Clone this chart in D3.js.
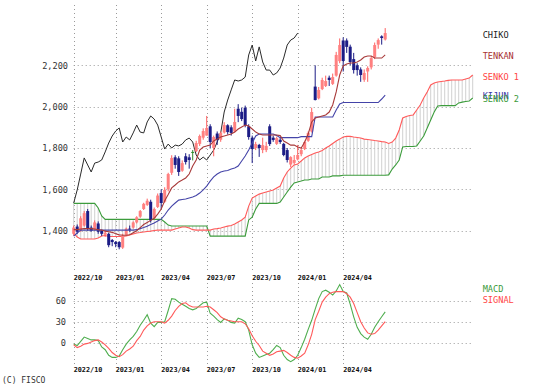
<!DOCTYPE html>
<html><head><meta charset="utf-8">
<script src="https://cdn.jsdelivr.net/npm/d3@7"></script>
<style>html,body{margin:0;padding:0;background:#fff;} svg{display:block;}</style>
</head><body>
<svg id="c" width="535" height="387"></svg>
<script>
// ---- data (weekly candles, index 0 = first week shown) ----
const open = [1385,1420,1400,1425,1495,1415,1405,1435,1400,1380,
1385,1355,1345,1345,1318,1380,1410,1415,1440,1468,
1505,1525,1540,1460,1515,1582,1540,1600,1680,1755,
1750,1690,1760,1755,1781,1785,1820,1850,1860,1905,
1800,1870,1840,1875,1910,1900,1880,1990,1975,1995,
1905,1850,1800,1815,1790,1790,1905,1850,1820,1840,
1820,1790,1720,1728,1745,1770,1795,1835,1880,2097,
2040,2085,2100,2140,2110,2150,2220,2320,2320,2290,
2230,2200,2180,2130,2170,2190,2240,2300,2340,2325];
const high = [1425,1430,1470,1495,1505,1425,1450,1445,1405,1400,
1390,1360,1350,1350,1385,1415,1425,1445,1470,1500,
1535,1555,1550,1512,1580,1600,1610,1680,1765,1765,
1760,1740,1775,1770,1790,1835,1865,1895,1955,1915,
1860,1880,1880,1925,1915,1910,1990,2012,1995,2005,
1915,1860,1830,1820,1850,1830,1915,1860,1855,1850,
1825,1800,1760,1766,1815,1800,1835,1880,1995,2200,
2095,2140,2150,2150,2160,2265,2330,2335,2330,2300,
2260,2210,2190,2180,2195,2245,2310,2330,2345,2380];
const low = [1375,1385,1395,1420,1400,1395,1400,1385,1375,1370,
1320,1325,1320,1310,1312,1375,1395,1410,1435,1462,
1500,1520,1440,1455,1510,1505,1535,1590,1670,1700,
1665,1685,1720,1700,1740,1780,1810,1840,1860,1800,
1760,1815,1830,1870,1865,1860,1875,1925,1930,1900,
1840,1727,1790,1757,1775,1780,1810,1830,1815,1820,
1760,1730,1708,1720,1740,1760,1790,1830,1875,2030,
2035,2080,2095,2100,2105,2145,2210,2170,2260,2200,
2160,2150,2120,2120,2120,2180,2230,2280,2300,2320];
const close = [1415,1395,1460,1485,1410,1400,1440,1395,1385,1390,
1330,1345,1335,1320,1375,1410,1405,1440,1465,1495,
1530,1545,1450,1505,1570,1534,1597,1674,1752,1718,
1684,1727,1732,1742,1781,1824,1858,1882,1897,1829,
1853,1839,1873,1911,1877,1873,1926,1955,1940,1911,
1853,1795,1819,1800,1814,1810,1819,1839,1848,1829,
1766,1742,1756,1742,1766,1790,1829,1873,1974,2032,
2081,2129,2124,2129,2143,2250,2298,2221,2289,2216,
2177,2177,2153,2163,2187,2235,2298,2322,2332,2356];
const tenkan = [1405,1405,1408,1410,1410,1410,1408,1405,1403,1398,
1395,1392,1385,1380,1378,1378,1380,1390,1400,1415,
1430,1440,1450,1460,1480,1505,1545,1575,1607,1621,
1636,1645,1655,1674,1713,1742,1790,1805,1810,1814,
1834,1843,1853,1858,1863,1868,1877,1892,1902,1911,
1906,1892,1877,1868,1863,1863,1863,1863,1863,1860,
1834,1824,1814,1814,1805,1800,1829,1868,1926,1945,
1950,1955,1960,1974,2008,2071,2153,2197,2206,2211,
2211,2216,2226,2240,2245,2245,2235,2235,2235,2250];
const kijun = [1374,1389,1403,1403,1403,1403,1403,1403,1403,1403,
1403,1403,1403,1403,1403,1403,1403,1403,1405,1410,
1415,1422,1430,1437,1447,1456,1476,1500,1519,1534,
1548,1551,1553,1558,1563,1570,1582,1597,1616,1640,
1660,1674,1684,1689,1691,1698,1703,1713,1737,1761,
1790,1824,1858,1868,1868,1868,1868,1868,1860,1850,
1850,1850,1850,1850,1850,1855,1855,1855,1855,1950,
1950,1950,1950,1950,1950,1984,2013,2020,2020,2020,
2020,2020,2020,2020,2020,2020,2020,2020,2037,2056];
const senko1 = [1389,1369,1360,1360,1360,1360,1360,1365,1374,1377,
1372,1372,1372,1372,1372,1374,1379,1384,1389,1391,
1394,1396,1398,1401,1403,1403,1403,1403,1403,1408,
1413,1418,1418,1413,1405,1403,1403,1403,1403,1403,
1408,1410,1413,1418,1422,1425,1432,1442,1452,1466,
1519,1558,1568,1577,1582,1587,1592,1597,1607,1616,
1655,1684,1703,1718,1723,1737,1752,1761,1769,1776,
1781,1788,1800,1810,1822,1834,1843,1853,1856,1856,
1853,1851,1848,1843,1841,1839,1836,1834,1831,1829,
1822,1829,1848,1887,1945,1952,1957,1960,1984,2008,
2042,2071,2105,2114,2119,2122,2124,2127,2129,2129,
2129,2129,2134,2138,2153];
const senko2 = [1532,1532,1532,1532,1532,1532,1532,1510,1471,1455,
1455,1455,1455,1455,1455,1455,1455,1455,1455,1455,
1455,1455,1455,1455,1455,1455,1442,1427,1423,1423,
1423,1423,1423,1423,1423,1423,1423,1423,1423,1374,
1374,1374,1374,1374,1374,1374,1374,1374,1374,1374,
1452,1466,1505,1532,1532,1532,1532,1532,1532,1539,
1563,1587,1611,1631,1636,1640,1645,1645,1650,1650,
1650,1660,1660,1660,1665,1665,1665,1668,1668,1668,
1668,1668,1668,1668,1668,1668,1668,1668,1668,1668,
1670,1698,1718,1742,1805,1807,1807,1807,1810,1834,
1858,1897,1935,1974,2003,2005,2005,2005,2005,2005,
2018,2022,2025,2027,2042];
const macd = [-2,-4,2,8,6,4,4,3,-6,-10,
-18,-21,-21,-19,-10,-2,4,9,16,25,
32,40,28,23,29,29,30,46,63,62,
58,55,52,49,47,49,53,57,58,42,
38,33,29,34,32,29,28,35,33,30,
18,-3,-15,-21,-19,-17,-15,-10,-4,-7,
-18,-24,-27,-24,-18,-7,5,19,32,48,
63,73,75,72,68,74,83,73,71,55,
37,22,13,8,5,12,22,30,37,44];
const signal = [-3,-7,-5,-2,-1,1,3,4,1,-3,
-8,-14,-18,-20,-17,-12,-9,-5,3,9,
18,24,28,30,30,30,28,32,38,46,
52,56,57,53,51,51,51,51,52,51,
47,43,37,34,32,31,30,30,30,27,
20,10,2,-4,-12,-15,-18,-16,-13,-12,
-11,-14,-18,-21,-22,-19,-15,-3,12,33,
45,58,65,70,72,73,73,73,70,65,
56,43,30,21,14,12,13,18,24,30];
const chikoShift = 25;
const priceTicks = [1400,1600,1800,2000,2200];
const macdTicks = [0,30,60];
const dateLabels = ["2022/10","2023/01","2023/04","2023/07","2023/10","2024/01","2024/04"];
const dateIdx = [0,12,25,38,51,64,77];
const legendMain = ["CHIKO","TENKAN","SENKO 1","KIJUN","SENKO 2"];
const legendMacd = ["MACD","SIGNAL"];

// ---- drawing ----
const svg = d3.select("#c");
const MONO = "'DejaVu Sans Mono', 'Liberation Mono', monospace";
const x = d3.scaleLinear().domain([0,114]).range([73.7,472.7]);
const y = d3.scaleLinear().domain([1400,2200]).range([230.7,65.3]);
const ym = d3.scaleLinear().domain([0,60]).range([342.7,300.7]);
const xR = 473;
const gridC = "#9a9a9a", dash = "1,3";

const col = {chiko:"#2a2a2a", tenkan:"#a83a3a", senko1:"#ff5a5a", kijun:"#4444a8", senko2:"#3c9c3c"};

// gridlines main
const g = svg.append("g");
g.selectAll(".hg").data(priceTicks).join("line")
  .attr("x1", x(0)).attr("x2", xR).attr("y1", d=>Math.round(y(d))+0.5).attr("y2", d=>Math.round(y(d))+0.5)
  .attr("stroke", gridC).attr("stroke-dasharray", dash);
g.selectAll(".vg").data(dateIdx).join("line")
  .attr("x1", d=>Math.round(x(d))+0.5).attr("x2", d=>Math.round(x(d))+0.5).attr("y1", 5).attr("y2", 270)
  .attr("stroke", gridC).attr("stroke-dasharray", dash);
// gridlines macd
g.selectAll(".hgm").data(macdTicks).join("line")
  .attr("x1", x(0)).attr("x2", xR).attr("y1", d=>Math.round(ym(d))+0.5).attr("y2", d=>Math.round(ym(d))+0.5)
  .attr("stroke", gridC).attr("stroke-dasharray", dash);
g.selectAll(".vgm").data(dateIdx).join("line")
  .attr("x1", d=>Math.round(x(d))+0.5).attr("x2", d=>Math.round(x(d))+0.5).attr("y1", 283).attr("y2", 364)
  .attr("stroke", gridC).attr("stroke-dasharray", dash);

// axis labels via d3 axes
const ay = svg.append("g").attr("transform","translate(68,0)")
  .call(d3.axisLeft(y).tickValues(priceTicks).tickFormat(d3.format(",")).tickSize(0).tickPadding(0));
ay.select(".domain").remove();
ay.selectAll("text").attr("font-family", MONO).attr("font-size", 8.6).attr("fill","#333");
const aym = svg.append("g").attr("transform","translate(66,0)")
  .call(d3.axisLeft(ym).tickValues(macdTicks).tickSize(0).tickPadding(0));
aym.select(".domain").remove();
aym.selectAll("text").attr("font-family", MONO).attr("font-size", 8.6).attr("fill","#333");

function dateAxis(yy){
  svg.append("g").selectAll("text").data(dateIdx).join("text")
    .attr("x", d=>x(d)).attr("y", yy).text((d,i)=>dateLabels[i])
    .attr("font-family", MONO).attr("font-size", 6.8).attr("font-weight","bold").attr("fill","#111");
}
dateAxis(279.5);
dateAxis(371.5);

// cloud hatching
const idxS = d3.range(senko1.length);
svg.append("g").selectAll("line").data(idxS).join("line")
  .attr("x1", i=>x(i)).attr("x2", i=>x(i))
  .attr("y1", i=>y(senko1[i])).attr("y2", i=>y(senko2[i]))
  .attr("stroke", "#c4c4c4").attr("stroke-width", 0.8);

const line = (arr, off=0, sc=y) => d3.line().x((d,i)=>x(i+off)).y(d=>sc(d))(arr);
svg.append("path").attr("d", line(senko2)).attr("fill","none").attr("stroke", col.senko2).attr("stroke-width",1.1);
svg.append("path").attr("d", line(senko1)).attr("fill","none").attr("stroke", col.senko1).attr("stroke-width",1.1);

// chiko: closes plotted shifted back
svg.append("path").attr("d", line(close.slice(chikoShift), 0)).attr("fill","none").attr("stroke", col.chiko).attr("stroke-width",1);

// candles
const idxC = d3.range(close.length);
const cc = i => close[i] > open[i] ? "#ff5f5f" : (close[i] < open[i] ? "#1c1c86" : "#2e8b2e");
const cg = svg.append("g");
cg.selectAll("line").data(idxC).join("line")
  .attr("x1", i=>x(i)).attr("x2", i=>x(i)).attr("y1", i=>y(high[i])).attr("y2", i=>y(low[i]))
  .attr("stroke", cc).attr("stroke-width", 1);
cg.selectAll("rect").data(idxC).join("rect")
  .attr("x", i=>x(i)-1.5).attr("width", 3)
  .attr("y", i=>y(Math.max(open[i],close[i])))
  .attr("height", i=>Math.max(1, Math.abs(y(open[i])-y(close[i]))))
  .attr("fill", i=> close[i] > open[i] ? "#ff8080" : cc(i));

svg.append("path").attr("d", line(kijun)).attr("fill","none").attr("stroke", col.kijun).attr("stroke-width",1.1);
svg.append("path").attr("d", line(tenkan)).attr("fill","none").attr("stroke", col.tenkan).attr("stroke-width",1.1);

// macd
svg.append("path").attr("d", line(macd,0,ym)).attr("fill","none").attr("stroke","#4fae4f").attr("stroke-width",1.1);
svg.append("path").attr("d", line(signal,0,ym)).attr("fill","none").attr("stroke","#ff5a5a").attr("stroke-width",1.1);

// legends
const legCol = ["#222","#a83030","#ff4444","#3535a5","#3a9a3a"];
const legY = [38,59,80,98.8,102.4];
svg.append("g").selectAll("text").data(legendMain).join("text")
  .attr("x", 482.7).attr("y", (d,i)=>legY[i]).text(d=>d)
  .attr("font-family", MONO).attr("font-size", 8.6).attr("fill", (d,i)=>legCol[i]);
const legMC = ["#3a9a3a","#ff4444"];
const legMY = [292,303];
svg.append("g").selectAll("text").data(legendMacd).join("text")
  .attr("x", 482.7).attr("y", (d,i)=>legMY[i]).text(d=>d)
  .attr("font-family", MONO).attr("font-size", 8.6).attr("fill", (d,i)=>legMC[i]);

svg.append("text").attr("x", 2).attr("y", 383).text("(C) FISCO")
  .attr("font-family", MONO).attr("font-size", 8).attr("fill","#333");
</script>
</body></html>
